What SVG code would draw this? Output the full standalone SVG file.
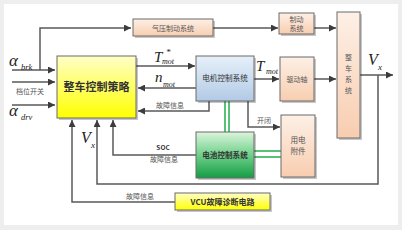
<svg xmlns="http://www.w3.org/2000/svg" width="402" height="230" viewBox="0 0 402 230">
<defs>
<linearGradient id="gY" x1="0" y1="0" x2="0" y2="1"><stop offset="0" stop-color="#ffffc8"/><stop offset="1" stop-color="#ffff00"/></linearGradient>
<linearGradient id="gP" x1="0" y1="0" x2="0" y2="1"><stop offset="0" stop-color="#fdf0e6"/><stop offset="1" stop-color="#f8cdb0"/></linearGradient>
<linearGradient id="gB" x1="0" y1="0" x2="0" y2="1"><stop offset="0" stop-color="#e6f0f9"/><stop offset="1" stop-color="#b2cae6"/></linearGradient>
<linearGradient id="gG" x1="0" y1="0" x2="0" y2="1"><stop offset="0" stop-color="#dcf5dc"/><stop offset="0.5" stop-color="#6fd08a"/><stop offset="1" stop-color="#149c44"/></linearGradient>
<marker id="ar" viewBox="0 0 10 10" refX="10" refY="5" markerWidth="7" markerHeight="7" markerUnits="userSpaceOnUse" orient="auto"><path d="M0,0 L10,5 L0,10 z" fill="#3c3c3c"/></marker>
<style>
.box{stroke:#6a6a6a;stroke-width:1}
.sh{fill:#000;opacity:0.22}
.ln{fill:none;stroke:#595959;stroke-width:1.5}
.gl{fill:none;stroke:#1fae4a;stroke-width:1.5}
.cn{font-family:"Noto Sans CJK SC","Noto Sans",sans-serif;fill:#333;text-anchor:middle}
.lb{fill:#555}
.s{font-size:7px}
.m{font-size:7.6px}
.it{font-family:"Liberation Serif","DejaVu Serif",serif;font-style:italic;fill:#222}
</style>
</defs>
<rect width="402" height="230" fill="#eeeeee"/>
<rect x="4" y="4" width="394" height="221" fill="#ffffff"/>

<g id="connectors">
<polyline class="ln" points="12,70 55,70" marker-end="url(#ar)"/>
<polyline class="ln" points="40,70 40,28 131,28" marker-end="url(#ar)"/>
<polyline class="ln" points="12,82 55,82" marker-end="url(#ar)"/>
<polyline class="ln" points="12,105 55,105" marker-end="url(#ar)"/>
<polyline class="ln" points="213,28 278,28" marker-end="url(#ar)"/>
<polyline class="ln" points="314,28 336,28" marker-end="url(#ar)"/>
<polyline class="ln" points="136,66 195,66" marker-end="url(#ar)"/>
<polyline class="ln" points="196,88 138,88" marker-end="url(#ar)"/>
<polyline class="ln" points="209,101 209,111 138,111" marker-end="url(#ar)"/>
<polyline class="ln" points="254,79 279,79" marker-end="url(#ar)"/>
<polyline class="ln" points="314,79 336,79" marker-end="url(#ar)"/>
<polyline class="ln" points="360,75 393,75" marker-end="url(#ar)"/>
<polyline class="ln" points="378,75 378,184 97,184 97,120" marker-end="url(#ar)"/>
<polyline class="ln" points="248,101 248,127 280,127" marker-end="url(#ar)"/>
<polyline class="ln" points="196,155 113,155 113,120" marker-end="url(#ar)"/>
<polyline class="ln" points="175,202 72,202 72,120" marker-end="url(#ar)"/>
<line class="gl" x1="225" y1="101" x2="225" y2="132"/>
<line class="gl" x1="229" y1="101" x2="229" y2="132"/>
<line class="gl" x1="254" y1="151" x2="281" y2="151"/>
<line class="gl" x1="254" y1="157" x2="281" y2="157"/>
</g>

<g id="labels">
<text class="it" x="9" y="66" font-size="17">α</text>
<text class="it" x="21" y="70" font-size="8.5">brk</text>
<text class="cn lb s" x="30" y="94">档位开关</text>
<text class="it" x="9" y="116" font-size="17">α</text>
<text class="it" x="21" y="120" font-size="8.5">drv</text>
<text class="it" x="154" y="62" font-size="15">T</text>
<text class="it" x="166" y="55" font-size="9">*</text>
<text class="it" x="162" y="64" font-size="8">mot</text>
<text class="it" x="155" y="82" font-size="15">n</text>
<text class="it" x="163" y="87" font-size="8">mot</text>
<text class="cn lb s" x="170" y="108">故障信息</text>
<text class="it" x="256" y="71" font-size="15">T</text>
<text class="it" x="266" y="74" font-size="8">mot</text>
<text class="it" x="368" y="65" font-size="16">V</text>
<text class="it" x="378" y="70" font-size="9">x</text>
<text class="cn lb s" x="264" y="123">开闭</text>
<text class="cn" x="163" y="150" font-size="6.5" font-weight="bold">SOC</text>
<text class="cn lb s" x="164" y="162">故障信息</text>
<text class="it" x="81" y="143" font-size="16">V</text>
<text class="it" x="91" y="148" font-size="9">x</text>
<text class="cn lb s" x="140" y="199">故障信息</text>
</g>

<g id="vcu-strategy">
<rect class="sh" x="59" y="58" width="79" height="62"/>
<rect class="box" x="57" y="56" width="79" height="62" fill="url(#gY)"/>
<text class="cn" x="96.5" y="91" font-size="11" font-weight="bold" fill="#222">整车控制策略</text>
</g>
<g id="air-brake">
<rect class="sh" x="135" y="21" width="80" height="17"/>
<rect class="box" x="133" y="19" width="80" height="17" fill="url(#gP)"/>
<text class="cn lb s" x="173" y="30.5">气压制动系统</text>
</g>
<g id="brake-system">
<rect class="sh" x="281" y="15" width="35" height="21"/>
<rect class="box" x="279" y="13" width="35" height="21" fill="url(#gP)"/>
<text class="cn lb s" x="296.5" y="22">制动</text>
<text class="cn lb s" x="296.5" y="31">系统</text>
</g>
<g id="vehicle-system">
<rect class="sh" x="339" y="14" width="23" height="126"/>
<rect class="box" x="337" y="12" width="23" height="126" fill="url(#gP)"/>
<text class="cn lb s" x="348.5" y="60">整</text>
<text class="cn lb s" x="348.5" y="71">车</text>
<text class="cn lb s" x="348.5" y="82">系</text>
<text class="cn lb s" x="348.5" y="93">统</text>
</g>
<g id="motor-controller">
<rect class="sh" x="198" y="58" width="58" height="45"/>
<rect class="box" x="196" y="56" width="58" height="45" fill="url(#gB)"/>
<text class="cn m" x="225" y="81">电机控制系统</text>
</g>
<g id="drive-shaft">
<rect class="sh" x="282" y="59" width="34" height="44"/>
<rect class="box" x="280" y="57" width="34" height="44" fill="url(#gP)"/>
<text class="cn lb s" x="297" y="82">驱动轴</text>
</g>
<g id="battery-controller">
<rect class="sh" x="198" y="134" width="58" height="46"/>
<rect class="box" x="196" y="132" width="58" height="46" fill="url(#gG)"/>
<text class="cn m" x="225" y="157.5" font-weight="bold" fill="#1a1a1a">电池控制系统</text>
</g>
<g id="accessories">
<rect class="sh" x="283" y="117" width="34" height="62"/>
<rect class="box" x="281" y="115" width="34" height="62" fill="url(#gP)"/>
<text class="cn lb m" x="298" y="143">用电</text>
<text class="cn lb m" x="298" y="154">附件</text>
</g>
<g id="vcu-diagnosis">
<rect class="sh" x="177" y="195" width="95" height="17"/>
<rect class="box" x="175" y="193" width="95" height="17" fill="url(#gY)"/>
<text class="cn" x="222.5" y="205" font-size="8" font-weight="bold" fill="#111">VCU故障诊断电路</text>
</g>
</svg>
